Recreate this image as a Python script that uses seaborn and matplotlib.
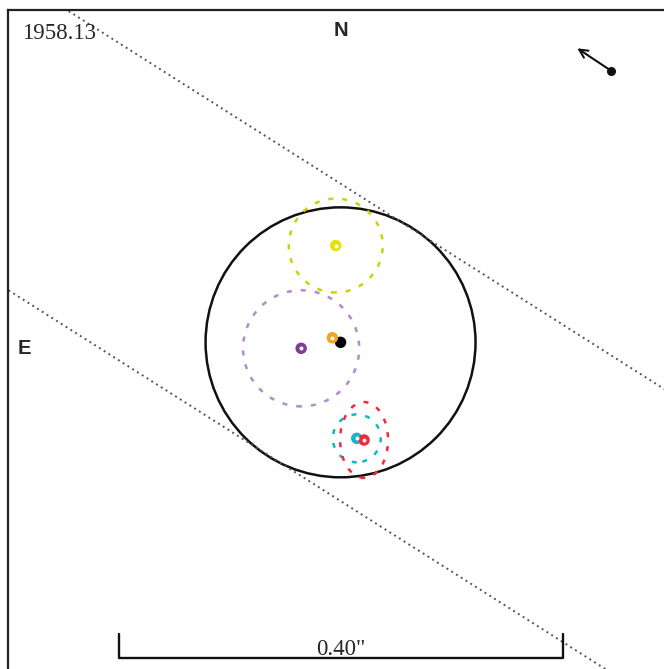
import numpy as np
import pandas as pd
import matplotlib
matplotlib.use("Agg")
import matplotlib.pyplot as plt
from matplotlib.patches import Circle, Ellipse
import seaborn as sns

# ---------------- data (arcsec offsets, east +, north +) ----------------
epoch = "1958.13"
components = ["black", "orange", "yellow", "purple", "cyan", "red"]
east = [0.0, 0.0074, 0.0043, 0.0355, -0.0146, -0.0212]
north = [0.0, 0.0041, 0.0872, -0.0054, -0.0865, -0.0880]
err_east = [0.0, 0.0, 0.0423, 0.0523, 0.0216, 0.0216]
err_north = [0.0, 0.0, 0.0423, 0.0523, 0.0216, 0.0342]
colors = ["#000000", "#f2a324", "#e3e300", "#7d3c98", "#16b4cc", "#ee2b3b"]
err_colors = ["#000000", "#f2a324", "#cfd000", "#b38bcb", "#16b4cc", "#ee2b3b"]

ring_radius = 0.1216          # large solid circle
band_halfwidth = 0.1207       # dotted path lines
band_angle_deg = 32.4         # path inclination (screen)
scale_bar = 0.40
scale_label = '0.40"'
motion_start = (-0.2437, 0.2447)
motion_end = (-0.2133, 0.2649)

df = pd.DataFrame({"comp": components, "east": east, "north": north,
                   "ee": err_east, "en": err_north})

# ---------------- figure ----------------
sns.set_style("white")
plt.rcParams["font.family"] = ["Liberation Serif", "DejaVu Serif"]

fig = plt.figure(figsize=(6.64, 6.69), dpi=100)
ax = fig.add_axes([8 / 664, 0, 1 - 8 / 664, 659 / 669])
ax.set_xlim(0.2996, -0.2914)
ax.set_ylim(-0.2943, 0.2994)
ax.set_aspect("equal")
ax.set_xticks([])
ax.set_yticks([])
for side in ["right", "bottom"]:
    ax.spines[side].set_visible(False)
for side in ["left", "top"]:
    ax.spines[side].set_color("#222222")
    ax.spines[side].set_linewidth(1.6)

# dotted path band
a = np.deg2rad(band_angle_deg)
u = np.array([-np.cos(a), -np.sin(a)])
n = np.array([-np.sin(a), np.cos(a)])
t = np.array([-1.0, 1.0])
for s in (band_halfwidth, -band_halfwidth):
    p0 = s * n
    ax.plot(p0[0] + t * u[0], p0[1] + t * u[1], color="#555555",
            lw=1.4, linestyle=(0, (1, 1.9)))

# big circle
ax.add_patch(Circle((0, 0), ring_radius, fill=False, ec="#111111", lw=1.8))

# error circles / ellipses
for _, r in df.iterrows():
    if r.ee > 0:
        c = err_colors[components.index(r.comp)]
        ax.add_patch(Ellipse((r.east, r.north), 2 * r.ee, 2 * r.en, fill=False,
                             ec=c, lw=1.8, linestyle=(0, (2, 3.6))))

# component markers
pal = dict(zip(components, colors))
sns.scatterplot(data=df, x="east", y="north", hue="comp", palette=pal,
                s=68, linewidth=0, legend=False, ax=ax, zorder=5)
rings = df[df.comp != "black"]
sns.scatterplot(data=rings, x="east", y="north", color="white", s=8,
                linewidth=0, legend=False, ax=ax, zorder=6)
ax.set_xlabel("")
ax.set_ylabel("")

# motion arrow
ax.annotate("", xy=motion_end, xytext=motion_start,
            arrowprops=dict(arrowstyle="->", color="#111111", lw=1.5,
                            mutation_scale=15, shrinkA=0, shrinkB=0))
ax.plot(*motion_start, "o", color="#111111", ms=5.5)

# scale bar
y0 = -0.2844
ytick = -0.2628
ax.plot([scale_bar / 2, scale_bar / 2, -scale_bar / 2, -scale_bar / 2],
        [ytick, y0, y0, ytick], color="#111111", lw=1.7)
ax.text(0, -0.2816, scale_label, ha="center", va="baseline", fontsize=16.5)

# labels
ax.text(0.287, 0.278, epoch, ha="left", va="center", fontsize=16.5)
ax.text(0.0, 0.281, "N", ha="center", va="center", fontsize=14.5,
        fontweight="bold", family=["Liberation Sans", "DejaVu Sans"])
ax.text(0.285, -0.0055, "E", ha="center", va="center", fontsize=14.5,
        fontweight="bold", family=["Liberation Sans", "DejaVu Sans"])

fig.savefig("out.png", dpi=100)
